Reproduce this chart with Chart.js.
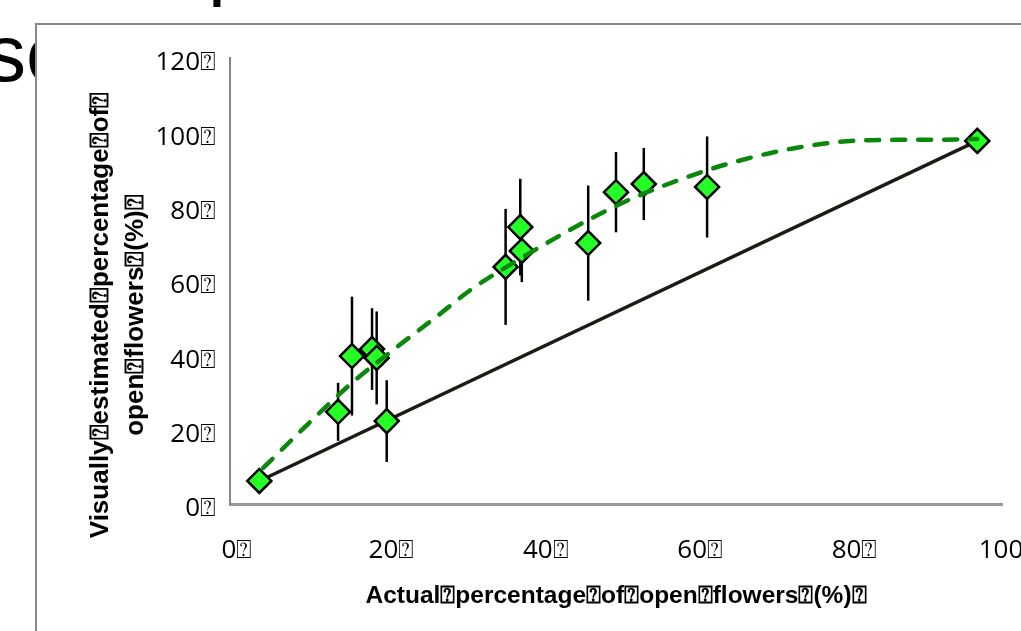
<!DOCTYPE html>
<html>
<head>
<meta charset="utf-8">
<script src="https://cdn.jsdelivr.net/npm/chart.js@4"></script>
<style>
    html, body { margin: 0; padding: 0; background: #fff; overflow: hidden; width: 1021px; height: 631px; }
    .slideText { position: absolute; font-family: "Liberation Sans", Arial, sans-serif; font-size: 80px; line-height: 80px; color: #000; white-space: nowrap; }
    #frame { position: absolute; left: 35px; top: 23px; width: 1100px; height: 700px; border-left: 2px solid #888; border-top: 2px solid #888; background: #fff; }
    #chartBox { position: absolute; left: 0; top: 0; width: 1080px; height: 631px; }
</style>
</head>
<body>
<div class="slideText" style="left:-14px; top:14px;">se</div>
<div class="slideText" style="left:208px; top:-77px;">p</div>
<div id="frame"></div>
<div id="chartBox"><canvas id="flowerChart"></canvas></div>
<script>
// Observed points (actual %, visually estimated %, error bar half-length)
const actualPct = [3.8, 14.0, 15.8, 18.4, 19.0, 20.3, 35.7, 37.6, 37.8, 46.4, 50.0, 53.6, 61.8, 96.8];
const estimatedPct = [6.2, 24.8, 39.8, 41.7, 39.3, 22.3, 63.8, 74.5, 68.1, 70.2, 83.9, 86.1, 85.3, 97.7];
const estimatedErr = [2, 7.8, 16, 11, 12.5, 11, 15.6, 13, 8.4, 15.5, 10.8, 9.7, 13.6, 1];

// 1:1 reference line
const refLineX = [3.8, 96.8];
const refLineY = [6.2, 97.7];

// Trend curve (green dashed)
const trendX = [4.3, 10.0, 15.8, 21.6, 26.5, 31.5, 38.0, 44.0, 50.8, 57.4, 64.8, 73.8, 82.9, 90.7, 96.8];
const trendY = [9.7, 21.3, 32.6, 42.2, 50.0, 58.1, 66.5, 73.7, 81.0, 86.6, 91.7, 96.0, 97.9, 98.0, 98.2];

// Tick labels
const xTickLabels = ['0\u2370', '20\u2370', '40\u2370', '60\u2370', '80\u2370', '100\u2370'];
const yTickLabels = ['0\u2370', '20\u2370', '40\u2370', '60\u2370', '80\u2370', '100\u2370', '120\u2370'];

const xTitle = 'Actual\u2370percentage\u2370of\u2370open\u2370flowers\u2370(%)\u2370';
const yTitleLines = ['Visually\u2370estimated\u2370percentage\u2370of\u2370', 'open\u2370flowers\u2370(%)\u2370'];

const toPoints = (xs, ys) => xs.map((v, i) => ({ x: v, y: ys[i] }));

// vertical error bars, drawn just before the diamonds
const errorBars = {
    id: 'errorBars',
    beforeDatasetDraw(chart, args) {
        if (args.index !== 1) return;
        const { ctx, scales: { x, y } } = chart;
        ctx.save();
        ctx.strokeStyle = '#000';
        ctx.lineWidth = 2.5;
        actualPct.forEach((v, i) => {
            const px = x.getPixelForValue(v);
            ctx.beginPath();
            ctx.moveTo(px, y.getPixelForValue(estimatedPct[i] + estimatedErr[i]));
            ctx.lineTo(px, y.getPixelForValue(estimatedPct[i] - estimatedErr[i]));
            ctx.stroke();
        });
        ctx.restore();
    }
};

// two-line y title
const yTitle = {
    id: 'yTitle',
    afterDraw(chart) {
        const ctx = chart.ctx;
        ctx.save();
        ctx.fillStyle = '#000';
        ctx.font = 'bold 26px "Liberation Sans", sans-serif';
        ctx.textAlign = 'center';
        ctx.textBaseline = 'middle';
        [101, 136].forEach((cx, i) => {
            ctx.save();
            ctx.translate(cx, 315);
            ctx.rotate(-Math.PI / 2);
            ctx.fillText(yTitleLines[i], 0, 0);
            ctx.restore();
        });
        ctx.restore();
    }
};

const ctx = document.getElementById('flowerChart').getContext('2d');
const flowerChart = new Chart(ctx, {
    data: {
        datasets: [
            {
                type: 'line',
                label: 'Trend',
                data: toPoints(trendX, trendY),
                borderColor: '#0b870b',
                borderWidth: 4.5,
                borderDash: [13, 13],
                borderCapStyle: 'round',
                cubicInterpolationMode: 'monotone',
                pointRadius: 0,
                fill: false,
                order: 0
            },
            {
                type: 'scatter',
                label: 'Observed',
                data: toPoints(actualPct, estimatedPct),
                pointStyle: 'rectRot',
                pointRadius: 12,
                pointBackgroundColor: '#25ff25',
                pointBorderColor: '#000',
                pointBorderWidth: 2.5,
                order: 1
            },
            {
                type: 'line',
                label: '1:1',
                data: toPoints(refLineX, refLineY),
                borderColor: '#1e1a14',
                borderWidth: 3.5,
                pointRadius: 0,
                fill: false,
                order: 2
            }
        ]
    },
    options: {
        responsive: true,
        maintainAspectRatio: false,
        animation: false,
        layout: {
            padding: { left: 0, top: 58, right: 78, bottom: 0 }
        },
        plugins: {
            legend: { display: false },
            tooltip: { enabled: false }
        },
        scales: {
            x: {
                type: 'linear',
                min: 0,
                max: 100,
                afterFit(scale) { scale.height = 127; },
                grid: { display: false, drawTicks: false },
                border: { display: true, color: '#999', width: 3 },
                ticks: {
                    stepSize: 20,
                    padding: 31,
                    labelOffset: 7,
                    maxRotation: 0,
                    color: '#000',
                    font: { family: '"Open Sans", sans-serif', size: 26 },
                    callback: (value) => xTickLabels[value / 20]
                },
                title: {
                    display: true,
                    text: xTitle,
                    color: '#000',
                    padding: { top: 0, bottom: 20 },
                    font: { family: '"Liberation Sans", sans-serif', size: 24.5, weight: 'bold' }
                }
            },
            y: {
                type: 'linear',
                min: 0,
                max: 120,
                afterFit(scale) { scale.width = 230; },
                grid: { display: false, drawTicks: false },
                border: { display: true, color: '#888', width: 2 },
                ticks: {
                    stepSize: 20,
                    padding: 14,
                    labelOffset: 5,
                    color: '#000',
                    font: { family: '"Open Sans", sans-serif', size: 26 },
                    callback: (value) => yTickLabels[value / 20]
                }
            }
        }
    },
    plugins: [errorBars, yTitle]
});
</script>
</body>
</html>
